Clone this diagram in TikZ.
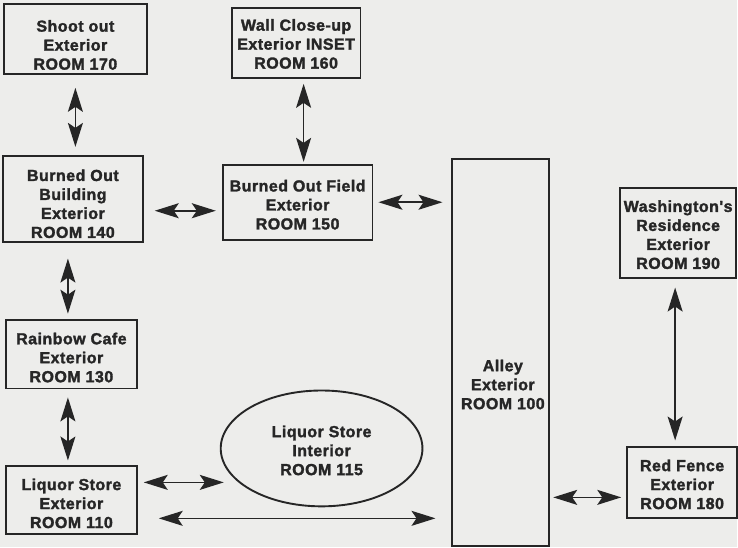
\documentclass[tikz,border=0pt]{standalone}
\usepackage{fontspec}
\newfontfamily\roomfont{Liberation Sans Bold}[LetterSpace=3, FakeBold=1.8]
\usetikzlibrary{arrows.meta,shapes.geometric,calc}
\definecolor{bg}{RGB}{237,237,235}
\definecolor{ink}{RGB}{38,38,38}
\begin{document}
\begin{tikzpicture}[x=1pt,y=-1pt,
  room/.style={draw=ink, line width=1.9pt, inner sep=0pt},
  rtext/.style={align=center, inner sep=0pt,
     font=\roomfont\fontsize{16}{19}\selectfont, text=ink},
  arr/.style={draw=ink, line width=1.6pt,
     {Stealth[length=24pt,width=15pt,inset=5pt]}-{Stealth[length=24pt,width=15pt,inset=5pt]}}]
\fill[bg] (0,0) rectangle (738,548);
% boxes
\node[room, minimum width=143, minimum height=70,
  label={[rtext, yshift=-6pt]center:Shoot out\\Exterior\\ROOM 170}] (n170) at (75.5,39) {};
\node[room, minimum width=129, minimum height=70,
  label={[rtext, yshift=-1pt]center:Wall Close-up\\Exterior INSET\\ROOM 160}] (n160) at (296.5,43) {};
\node[room, minimum width=140, minimum height=86,
  label={[rtext, yshift=-5pt]center:Burned Out\\Building\\Exterior\\ROOM 140}] (n140) at (73,199) {};
\node[room, minimum width=150, minimum height=75,
  label={[rtext, yshift=-2.5pt]center:Burned Out Field\\Exterior\\ROOM 150}] (n150) at (298,202.5) {};
\node[room, minimum width=97, minimum height=388,
  label={[rtext, xshift=2pt, yshift=-32pt]center:Alley\\Exterior\\ROOM 100}] (n100) at (501.5,353) {};
\node[room, minimum width=116, minimum height=90,
  label={[rtext, yshift=-2pt]center:Washington's\\Residence\\Exterior\\ROOM 190}] (n190) at (679,233) {};
\node[room, minimum width=110, minimum height=71,
  label={[rtext, yshift=-1.5pt]center:Red Fence\\Exterior\\ROOM 180}] (n180) at (683,483.5) {};
\node[room, minimum width=131, minimum height=69,
  label={[rtext, yshift=-3.5pt]center:Rainbow Cafe\\Exterior\\ROOM 130}] (n130) at (71.5,354.5) {};
\node[room, minimum width=131, minimum height=68,
  label={[rtext, yshift=-3pt]center:Liquor Store\\Exterior\\ROOM 110}] (n110) at (71.5,501) {};
\node[room, ellipse, minimum width=202, minimum height=116,
  label={[rtext, yshift=-2pt]center:Liquor Store\\Interior\\ROOM 115}] (n115) at (322,449) {};
% connectors
\draw[arr, shorten <=13pt, shorten >=8pt] (n170.south) -- (n170.south |- n140.north);
\draw[arr, shorten <=5pt, shorten >=2pt] ([xshift=7.5pt]n160.south) -- ([xshift=7.5pt]n160.south |- n150.north);
\draw[arr, shorten <=11pt, shorten >=6pt] ([yshift=-12pt]n140.east) -- ([yshift=-12pt]n140.east -| n150.west);
\draw[arr, shorten <=5pt, shorten >=9pt] (n150.east) -- (n150.east -| n100.west);
\draw[arr, shorten <=16pt, shorten >=5pt] ([xshift=-5pt]n140.south) -- ([xshift=-5pt]n140.south |- n130.north);
\draw[arr, shorten <=8pt, shorten >=5pt] ([xshift=-3.5pt]n130.south) -- ([xshift=-3.5pt]n130.south |- n110.north);
\draw[arr, shorten <=6pt, shorten >=-4pt] ([yshift=18pt]n110.east) -- ([yshift=18pt]n110.east -| n115.west);
\draw[arr, shorten <=21pt, shorten >=16pt] ([yshift=-18pt]n110.east) -- ([yshift=-18pt]n110.east -| n100.west);
\draw[arr, shorten <=3pt, shorten >=5pt] ([yshift=-14.5pt]n180.west -| n100.east) -- ([yshift=-14.5pt]n180.west);
\draw[arr, shorten <=9pt, shorten >=6pt] ([xshift=-3pt]n190.south) -- ([xshift=-3pt]n190.south |- n180.north);
\end{tikzpicture}
\end{document}
